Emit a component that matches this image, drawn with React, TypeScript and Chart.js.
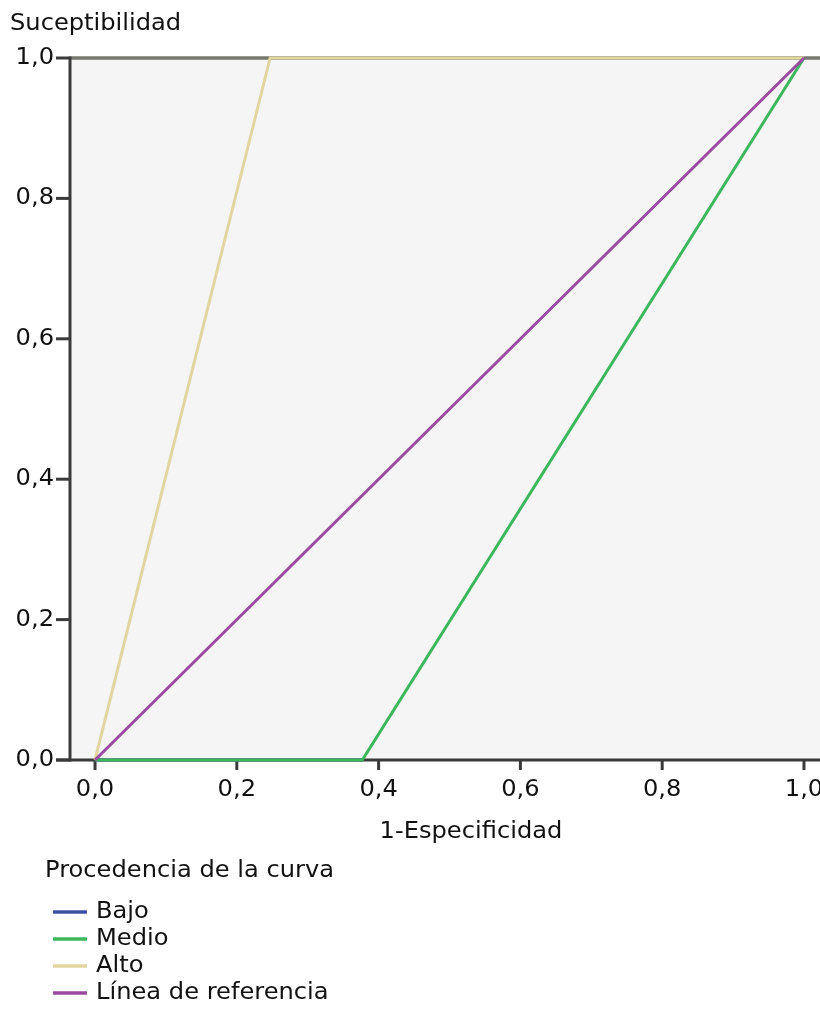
import React, { useEffect, useRef } from "react";
import { Chart, registerables } from "chart.js";

Chart.register(...registerables);

const yAxisTitle = "Suceptibilidad";
const xAxisTitle = "1-Especificidad";
const legendTitle = "Procedencia de la curva";
const seriesNames = ["Bajo", "Medio", "Alto", "Línea de referencia"];
const seriesColors = ["#3f4fa6", "#3cb75c", "#e2d6a0", "#9a4aa0"];

const bajoX = [0, 0.377];
const bajoY = [0, 0];
const medioX = [0, 0.377, 1];
const medioY = [0, 0, 1];
const altoX = [0, 0.247, 1];
const altoY = [0, 1, 1];
const refX = [0, 1];
const refY = [0, 1];

const xTicks = [0, 0.2, 0.4, 0.6, 0.8, 1.0];
const yTicks = [0, 0.2, 0.4, 0.6, 0.8, 1.0];

const FONT = "23px 'DejaVu Sans'";
const SX = 1.05;
const TEXT = "#111111";

function fmt(v: number) {
  return v.toFixed(1).replace(".", ",");
}

function pts(xs: number[], ys: number[]) {
  return xs.map((x, i) => ({ x, y: ys[i] }));
}

function drawText(
  ctx: CanvasRenderingContext2D,
  text: string,
  x: number,
  y: number,
  align: CanvasTextAlign
) {
  ctx.save();
  ctx.translate(x, y);
  ctx.scale(SX, 1);
  ctx.font = FONT;
  ctx.fillStyle = TEXT;
  ctx.textAlign = align;
  ctx.textBaseline = "middle";
  ctx.fillText(text, 0, 0);
  ctx.restore();
}

const framePlugin = {
  id: "frame",
  beforeDatasetsDraw(chart: any) {
    const { ctx, chartArea: a } = chart;
    ctx.save();
    ctx.fillStyle = "#f5f5f5";
    ctx.fillRect(a.left, a.top, a.right - a.left, a.bottom - a.top);
    ctx.strokeStyle = "#77776f";
    ctx.lineWidth = 3.5;
    ctx.beginPath();
    ctx.moveTo(a.left, a.top);
    ctx.lineTo(a.right, a.top);
    ctx.stroke();
    ctx.strokeStyle = "#3a3a3a";
    ctx.lineWidth = 3;
    ctx.beginPath();
    ctx.moveTo(a.left, a.top - 1.5);
    ctx.lineTo(a.left, a.bottom + 1.5);
    ctx.stroke();
    ctx.beginPath();
    ctx.moveTo(a.left - 14, a.bottom);
    ctx.lineTo(a.right, a.bottom);
    ctx.stroke();
    const xs = chart.scales.x;
    const ys = chart.scales.y;
    xTicks.forEach((t) => {
      const px = xs.getPixelForValue(t);
      ctx.beginPath();
      ctx.moveTo(px, a.bottom);
      ctx.lineTo(px, a.bottom + 10);
      ctx.stroke();
    });
    yTicks.forEach((t) => {
      const py = ys.getPixelForValue(t);
      ctx.beginPath();
      ctx.moveTo(a.left - 14, py);
      ctx.lineTo(a.left, py);
      ctx.stroke();
    });
    ctx.restore();
  },
  afterDraw(chart: any) {
    const { ctx, chartArea: a } = chart;
    const xs = chart.scales.x;
    const ys = chart.scales.y;
    xTicks.forEach((t) => {
      drawText(ctx, fmt(t), xs.getPixelForValue(t), a.bottom + 30, "center");
    });
    yTicks.forEach((t) => {
      drawText(ctx, fmt(t), a.left - 16, ys.getPixelForValue(t), "right");
    });
    drawText(ctx, yAxisTitle, 10, 24, "left");
    drawText(ctx, xAxisTitle, 471, 832, "center");
    drawText(ctx, legendTitle, 45, 871, "left");
    const rows = [912, 939, 966, 993];
    seriesNames.forEach((name, i) => {
      ctx.save();
      ctx.strokeStyle = seriesColors[i];
      ctx.lineWidth = 3.5;
      ctx.beginPath();
      ctx.moveTo(53, rows[i]);
      ctx.lineTo(87, rows[i]);
      ctx.stroke();
      ctx.restore();
      drawText(ctx, name, 96, rows[i], "left");
    });
  },
};

export default function App() {
  const ref = useRef<HTMLCanvasElement | null>(null);
  useEffect(() => {
    document.body.style.margin = "0";
    const canvas = ref.current!;
    const mk = (i: number, data: any[], order: number) => ({
      label: seriesNames[i],
      data,
      borderColor: seriesColors[i],
      backgroundColor: seriesColors[i],
      borderWidth: 3,
      pointRadius: 0,
      tension: 0,
      fill: false,
      clip: false as any,
      order,
    });
    const chart = new Chart(canvas, {
      type: "line",
      data: {
        datasets: [
          mk(0, pts(bajoX, bajoY), 3),
          mk(1, pts(medioX, medioY), 2),
          mk(2, pts(altoX, altoY), 1),
          mk(3, pts(refX, refY), 0),
        ],
      },
      options: {
        animation: false,
        responsive: false,
        maintainAspectRatio: false,
        layout: { padding: { left: 70, top: 58, right: 0, bottom: 250 } },
        plugins: { legend: { display: false }, tooltip: { enabled: false } },
        scales: {
          x: { type: "linear", min: -0.0353, max: 1.0226, display: false },
          y: { type: "linear", min: 0, max: 1, display: false },
        },
      },
      plugins: [framePlugin],
    });
    return () => chart.destroy();
  }, []);
  return <canvas ref={ref} width={820} height={1010} style={{ display: "block" }} />;
}
